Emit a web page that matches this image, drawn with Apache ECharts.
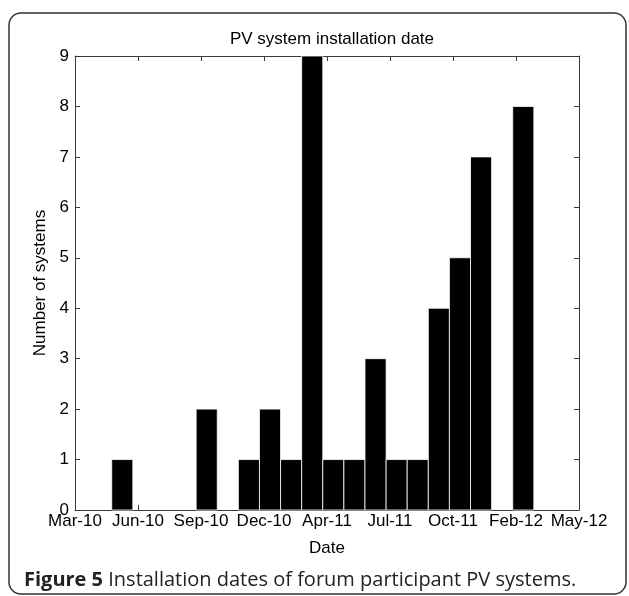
<!DOCTYPE html>
<html>
<head>
<meta charset="utf-8">
<script src="https://cdn.jsdelivr.net/npm/echarts@6/dist/echarts.min.js"></script>
<style>
  html, body { margin: 0; padding: 0; background: #fff; }
  #chart { width: 629px; height: 596px; }
</style>
</head>
<body>
<div id="chart"></div>
<script>
// x is days counted from 1 Mar 2010; the axis runs over 800 days
const tickLabels = ['Mar-10', 'Jun-10', 'Sep-10', 'Dec-10', 'Apr-11', 'Jul-11', 'Oct-11', 'Feb-12', 'May-12'];
const binStarts = [58.3, 192.3, 259.3, 292.8, 326.3, 359.8, 393.3, 426.8, 460.3, 493.8, 527.3, 560.8, 594.3, 627.8, 694.8];
const counts    = [1,    2,     1,     2,     1,     9,     1,     1,     3,     1,     1,     4,     5,     7,     8];
const binWidth = 33.5;

const chart = echarts.init(document.getElementById('chart'));

const axisColor = '#3a3a3a';
const font = 'Liberation Sans, Arial, sans-serif';

const barData = binStarts.map((s, i) => [s, s + binWidth, counts[i]]);

// shared look for the four sides of the box
const frameAxis = {
  axisLine: { show: true, onZero: false, lineStyle: { color: axisColor, width: 1 } },
  axisTick: { show: true, inside: true, length: 5, lineStyle: { color: axisColor } },
  splitLine: { show: false }
};

chart.setOption({
  animation: false,
  title: {
    text: 'PV system installation date',
    left: 327,
    textAlign: 'center',
    top: 26,
    textStyle: { fontFamily: font, fontSize: 17, fontWeight: 'normal', color: '#000' }
  },
  grid: { left: 75, right: 50, top: 56, bottom: 86 },
  xAxis: [Object.assign({
    type: 'value',
    min: 0, max: 800, interval: 100,
    name: 'Date',
    nameLocation: 'middle',
    nameGap: 30,
    nameTextStyle: { fontFamily: font, fontSize: 17, color: '#000' },
    axisLabel: {
      fontFamily: font, fontSize: 17, color: '#000', margin: 3,
      formatter: (v) => tickLabels[Math.round(v / 100)]
    }
  }, frameAxis), Object.assign({
    type: 'value',
    position: 'top',
    min: 0, max: 800, interval: 100,
    axisLabel: { show: false }
  }, frameAxis)],
  yAxis: [Object.assign({
    type: 'value',
    min: 0, max: 9, interval: 1,
    name: 'Number of systems',
    nameLocation: 'middle',
    nameGap: 21,
    nameTextStyle: { fontFamily: font, fontSize: 17, color: '#000' },
    axisLabel: { fontFamily: font, fontSize: 17, color: '#000', margin: 6 }
  }, frameAxis), Object.assign({
    type: 'value',
    position: 'right',
    min: 0, max: 9, interval: 1,
    axisLabel: { show: false }
  }, frameAxis)],
  series: [{
    type: 'custom',
    xAxisIndex: 0,
    yAxisIndex: 0,
    data: barData,
    renderItem: (params, api) => {
      const p0 = api.coord([api.value(0), 0]);
      const p1 = api.coord([api.value(1), api.value(2)]);
      return {
        type: 'rect',
        shape: { x: p0[0], y: p1[1], width: p1[0] - p0[0], height: p0[1] - p1[1] },
        style: { fill: '#000', stroke: '#fff', lineWidth: 0.8 }
      };
    }
  }],
  graphic: [{
    type: 'rect',
    shape: { x: 9, y: 13, width: 617, height: 581, r: 12 },
    style: { fill: 'none', stroke: '#333', lineWidth: 1.5 },
    silent: true
  }, {
    type: 'text',
    x: 24,
    y: 580,
    style: {
      text: '{b|Figure 5} Installation dates of forum participant PV systems.',
      font: '20px "Open Sans", sans-serif',
      fill: '#222',
      verticalAlign: 'middle',
      rich: {
        b: { fontFamily: 'Open Sans', fontSize: 20, fontWeight: 'bold', fill: '#222' }
      }
    }
  }]
});
</script>
</body>
</html>
